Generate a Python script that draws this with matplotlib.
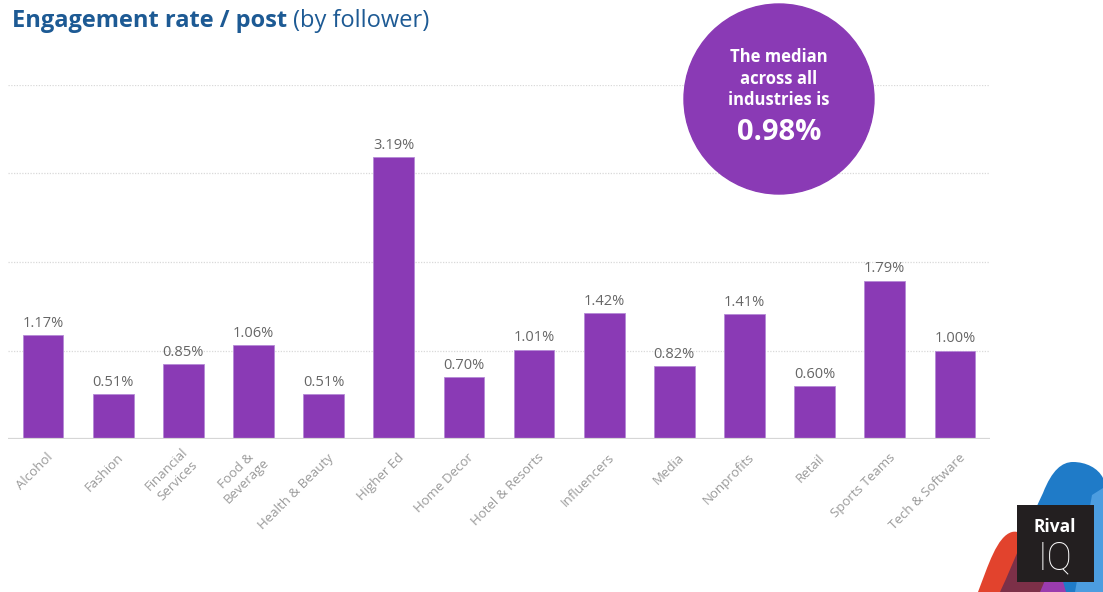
import matplotlib
matplotlib.use("Agg")
import matplotlib.pyplot as plt
from matplotlib.patches import Circle, PathPatch, Rectangle, Polygon
from matplotlib.path import Path
import matplotlib.transforms as mtransforms

# ---- data ----
industries = [
    "Alcohol", "Fashion", "Financial\nServices", "Food &\nBeverage",
    "Health & Beauty", "Higher Ed", "Home Decor", "Hotel & Resorts",
    "Influencers", "Media", "Nonprofits", "Retail", "Sports Teams",
    "Tech & Software",
]
engagement = [1.17, 0.51, 0.85, 1.06, 0.51, 3.19, 0.70, 1.01,
              1.42, 0.82, 1.41, 0.60, 1.79, 1.00]
grid_levels = [1, 2, 3, 4]
median_value = 0.98

W, H = 1103, 592
BAR = "#8a3ab5"
FONT = ["Open Sans", "DejaVu Sans"]
plt.rcParams["font.family"] = FONT

fig = plt.figure(figsize=(W / 100, H / 100), dpi=100)
fig.patch.set_facecolor("white")

# main bar axes placed in pixel terms
left, right, top, base = 8, 990, 85, 439
ax = fig.add_axes([left / W, (H - base) / H, (right - left) / W, (base - top) / H])
ax.set_xlim(-0.5, len(industries) - 0.5)
ax.set_ylim(0, 4)
for s in ax.spines.values():
    s.set_visible(False)
ax.set_yticks([])
for g in grid_levels:
    ax.axhline(g, color="#d9d9d9", lw=0.9, ls=(0, (1, 1.2)), zorder=0)
ax.axhline(0, color="#d6d6d6", lw=1.6, zorder=3)

x = list(range(len(industries)))
ax.bar(x, engagement, width=0.58, color=BAR, edgecolor="#b58ad6",
       linewidth=0.6, zorder=2)
for xi, v in zip(x, engagement):
    ax.annotate(f"{v:.2f}%", (xi, v), xytext=(0, 3), textcoords="offset points",
                ha="center", va="bottom", fontsize=10.5, color="#666666")

ax.set_xticks(x)
ax.set_xticklabels(industries, rotation=45, ha="right", va="center",
                   rotation_mode="anchor", multialignment="center",
                   fontsize=9.5, color="#9a9a9a")
ax.tick_params(axis="x", length=0, pad=12)
shift = mtransforms.ScaledTranslation(8 / 100, 0, fig.dpi_scale_trans)
for lab in ax.get_xticklabels():
    lab.set_transform(lab.get_transform() + shift)

# title: bold lead followed directly by the regular qualifier
title = fig.text(12 / W, 1 - 27 / H, "Engagement rate / post", fontsize=17,
                 fontweight="bold", color="#1d5a94", ha="left", va="baseline")
title_ax = fig.add_axes([0, 0, 1, 1])
title_ax.axis("off")
title_ax.annotate("(by follower)", xy=(1, 0), xycoords=title, xytext=(6, 0),
                  textcoords="offset pixels", fontsize=17, color="#1d5a94",
                  ha="left", va="bottom")

# overlay in pixel coordinates for callout and logo
ov = fig.add_axes([0, 0, 1, 1], zorder=5)
ov.set_xlim(0, W)
ov.set_ylim(H, 0)
ov.axis("off")
ov.patch.set_alpha(0)

ov.add_patch(Circle((779, 99), 95, color=BAR, zorder=1))
ov.text(779, 57, "The median", ha="center", va="center", color="white",
        fontsize=12, fontweight="bold")
ov.text(779, 79, "across all", ha="center", va="center", color="white",
        fontsize=12, fontweight="bold")
ov.text(779, 100, "industries is", ha="center", va="center", color="white",
        fontsize=12, fontweight="bold")
ov.text(779, 133, f"{median_value:.2f}%", ha="center", va="center",
        color="white", fontsize=21, fontweight="bold")

# logo artwork
C = Path.CURVE4
blue_path = Path(
    [(1000, 592), (1015, 560), (1030, 520), (1043, 493),
     (1052, 470), (1062, 462), (1073, 462),
     (1086, 462), (1098, 468), (1103, 478),
     (1103, 592), (1000, 592)],
    [Path.MOVETO, C, C, C, C, C, C, C, C, C, Path.LINETO, Path.CLOSEPOLY])
blue = PathPatch(blue_path, facecolor="#1f7bc8", edgecolor="none", zorder=2)
ov.add_patch(blue)
light = Polygon([(1092, 495), (1103, 488), (1103, 592), (1075, 592)],
                closed=True, facecolor="#4c9de0", edgecolor="none", zorder=2)
ov.add_patch(light)
light.set_clip_path(blue)

red_path = Path(
    [(978, 592), (988, 566), (997, 536), (1012, 532),
     (1024, 529), (1030, 546), (1038, 562),
     (1054, 592), (978, 592)],
    [Path.MOVETO, C, C, C, C, C, C, Path.LINETO, Path.CLOSEPOLY])
ov.add_patch(PathPatch(red_path, facecolor="#e2432d", edgecolor="none", zorder=2))
maroon = PathPatch(red_path, facecolor="#7c3048", edgecolor="none", zorder=3)
ov.add_patch(maroon)
maroon.set_clip_path(blue)
ov.add_patch(Polygon([(1040, 592), (1046, 578), (1062, 578), (1066, 592)],
                     closed=True, facecolor="#9a3cae", edgecolor="none", zorder=3))

ov.add_patch(Rectangle((1017, 505), 77, 77, facecolor="#231f20",
                       edgecolor="none", zorder=4))
ov.text(1055, 527, "Rival", ha="center", va="center", color="white",
        fontsize=12.5, fontweight="bold", zorder=5)
ov.text(1055, 559, "IQ", ha="center", va="center", color="white",
        fontsize=27, fontweight="light", family=["Roboto", "DejaVu Sans"],
        zorder=5)

fig.savefig("out.png", dpi=100)
